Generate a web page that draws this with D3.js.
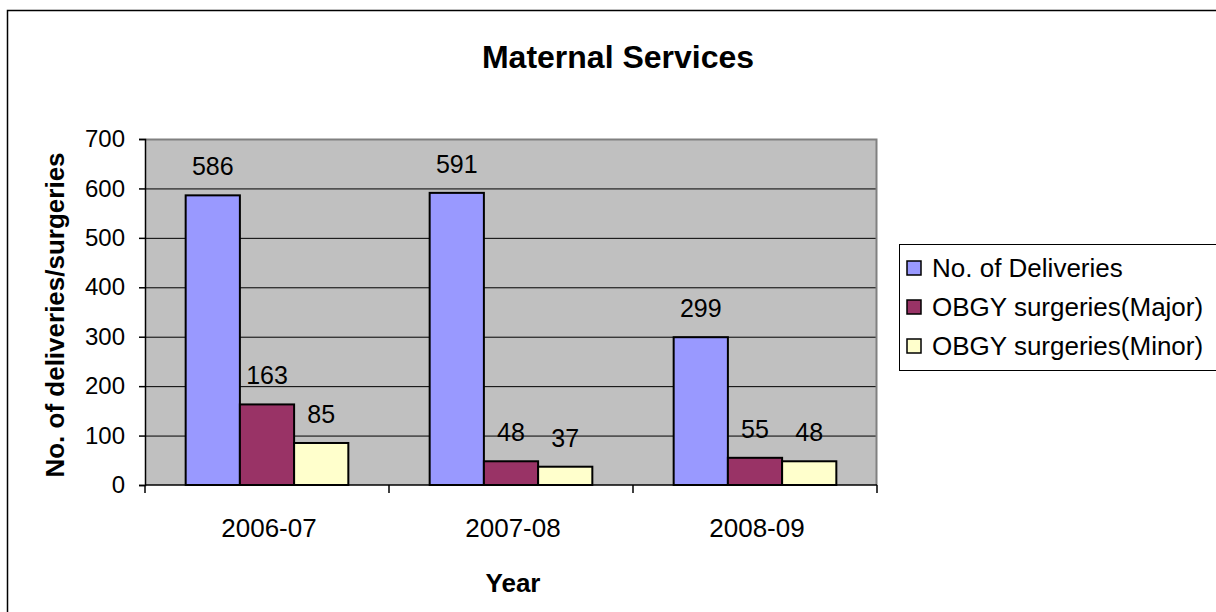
<!DOCTYPE html>
<html>
<head>
<meta charset="utf-8">
<script src="https://cdn.jsdelivr.net/npm/d3@7"></script>
<style>
  body { margin: 0; background: #fff; }
  svg { font-family: "Liberation Sans", Arial, sans-serif; }
</style>
</head>
<body>
<svg width="1216" height="612"></svg>
<script>
// data
var years = ["2006-07", "2007-08", "2008-09"];
var seriesNames = ["No. of Deliveries", "OBGY surgeries(Major)", "OBGY surgeries(Minor)"];
var deliveries = [586, 591, 299];
var majorSurg = [163, 48, 55];
var minorSurg = [85, 37, 48];
var yTicks = [0, 100, 200, 300, 400, 500, 600, 700];

var colors = ["#9999FF", "#993366", "#FFFFCC"];

// plot area
var margin = { top: 139, left: 145 },
    width = 732,
    height = 346;

var svg = d3.select("svg");

// outer chart border (runs off the right and bottom)
svg.append("rect")
    .attr("x", 7.5).attr("y", 10.5)
    .attr("width", 1300).attr("height", 700)
    .attr("fill", "none")
    .attr("stroke", "#000")
    .attr("stroke-width", 1.5);

var rows = seriesNames.map(function(name, i) {
    return { name: name, values: [deliveries, majorSurg, minorSurg][i] };
});

var xScale = d3.scaleBand()
    .domain(years)
    .range([0, width]);

var xInner = d3.scaleBand()
    .domain(d3.range(seriesNames.length))
    .range([0, xScale.bandwidth()])
    .paddingOuter(0.75);

var yScale = d3.scaleLinear()
    .domain([0, 700])
    .range([height, 0]);

var g = svg.append("g")
    .attr("transform", "translate(" + margin.left + "," + margin.top + ")");

// plot background
g.append("rect")
    .attr("width", width).attr("height", height)
    .attr("fill", "#C0C0C0");

// gridlines
g.selectAll(".grid")
    .data(yTicks.slice(1))
    .enter().append("line")
    .attr("x1", 0).attr("x2", width)
    .attr("y1", function(d) { return yScale(d) + 0.5; })
    .attr("y2", function(d) { return yScale(d) + 0.5; })
    .attr("stroke", "#000")
    .attr("stroke-width", 1);

// gray frame on top and right
g.append("path")
    .attr("d", "M0,0.5H" + (width - 0.5) + "V" + height)
    .attr("fill", "none")
    .attr("stroke", "#808080")
    .attr("stroke-width", 2);

// bars
var groups = g.selectAll(".grp")
    .data(years)
    .enter().append("g")
    .attr("transform", function(d) { return "translate(" + xScale(d) + ",0)"; });

groups.selectAll("rect")
    .data(function(d, j) { return rows.map(function(r, i) { return { i: i, v: r.values[j] }; }); })
    .enter().append("rect")
    .attr("x", function(d) { return xInner(d.i); })
    .attr("y", function(d) { return yScale(d.v); })
    .attr("width", xInner.bandwidth())
    .attr("height", function(d) { return height - yScale(d.v); })
    .attr("fill", function(d) { return colors[d.i]; })
    .attr("stroke", "#000")
    .attr("stroke-width", 2);

groups.selectAll("text")
    .data(function(d, j) { return rows.map(function(r, i) { return { i: i, v: r.values[j] }; }); })
    .enter().append("text")
    .attr("x", function(d) { return xInner(d.i) + xInner.bandwidth() / 2; })
    .attr("y", function(d) { return yScale(d.v) - 20; })
    .attr("text-anchor", "middle")
    .style("font-size", "25px")
    .text(function(d) { return d.v; });

// axes
var yAxis = d3.axisLeft(yScale)
    .tickValues(yTicks)
    .tickSize(6)
    .tickPadding(14);

var xAxis = d3.axisBottom(xScale)
    .tickValues([])
    .tickSizeOuter(0);

var ya = g.append("g").call(yAxis);
ya.select(".domain").attr("stroke", "#000").attr("stroke-width", 1.5);
ya.selectAll("line").attr("stroke-width", 1.5);
ya.selectAll("text").style("font-size", "24px").attr("fill", "#000")
    .style("font-family", "Liberation Sans, Arial, sans-serif");

var xa = g.append("g")
    .attr("transform", "translate(0," + height + ")")
    .call(xAxis);
xa.select(".domain").attr("stroke", "#000").attr("stroke-width", 1.5).attr("d", "M0,0H" + width);

// x tick marks at band edges
xa.selectAll(".edge")
    .data(years.concat(["end"]))
    .enter().append("line")
    .attr("x1", function(d, i) { return i * xScale.step(); })
    .attr("x2", function(d, i) { return i * xScale.step(); })
    .attr("y1", 0).attr("y2", 8)
    .attr("stroke", "#000")
    .attr("stroke-width", 1.5);

xa.selectAll(".lbl")
    .data(years)
    .enter().append("text")
    .attr("x", function(d) { return xScale(d) + xScale.bandwidth() / 2 + 2; })
    .attr("y", 52)
    .attr("text-anchor", "middle")
    .attr("fill", "#000")
    .style("font-size", "26px")
    .style("font-family", "Liberation Sans, Arial, sans-serif")
    .text(function(d) { return d; });

// titles
svg.append("text")
    .attr("x", 618).attr("y", 68)
    .attr("text-anchor", "middle")
    .style("font-size", "32px")
    .style("font-weight", "bold")
    .text("Maternal Services");

svg.append("text")
    .attr("x", 513).attr("y", 592)
    .attr("text-anchor", "middle")
    .style("font-size", "26px")
    .style("font-weight", "bold")
    .text("Year");

svg.append("text")
    .attr("transform", "translate(64,315) rotate(-90)")
    .attr("text-anchor", "middle")
    .style("font-size", "26px")
    .style("font-weight", "bold")
    .text("No. of deliveries/surgeries");

// legend
var legend = svg.append("g").attr("transform", "translate(899,244)");
legend.append("rect")
    .attr("x", 0.5).attr("y", 0.5)
    .attr("width", 400).attr("height", 126)
    .attr("fill", "#fff")
    .attr("stroke", "#000")
    .attr("stroke-width", 1);

var items = legend.selectAll(".item")
    .data(seriesNames)
    .enter().append("g")
    .attr("transform", function(d, i) { return "translate(0," + (24 + i * 39) + ")"; });

items.append("rect")
    .attr("x", 8).attr("y", -7)
    .attr("width", 14).attr("height", 14)
    .attr("fill", function(d, i) { return colors[i]; })
    .attr("stroke", "#000")
    .attr("stroke-width", 1.5);

items.append("text")
    .attr("x", 33).attr("y", 9)
    .style("font-size", "26px")
    .text(function(d) { return d; });
</script>
</body>
</html>
